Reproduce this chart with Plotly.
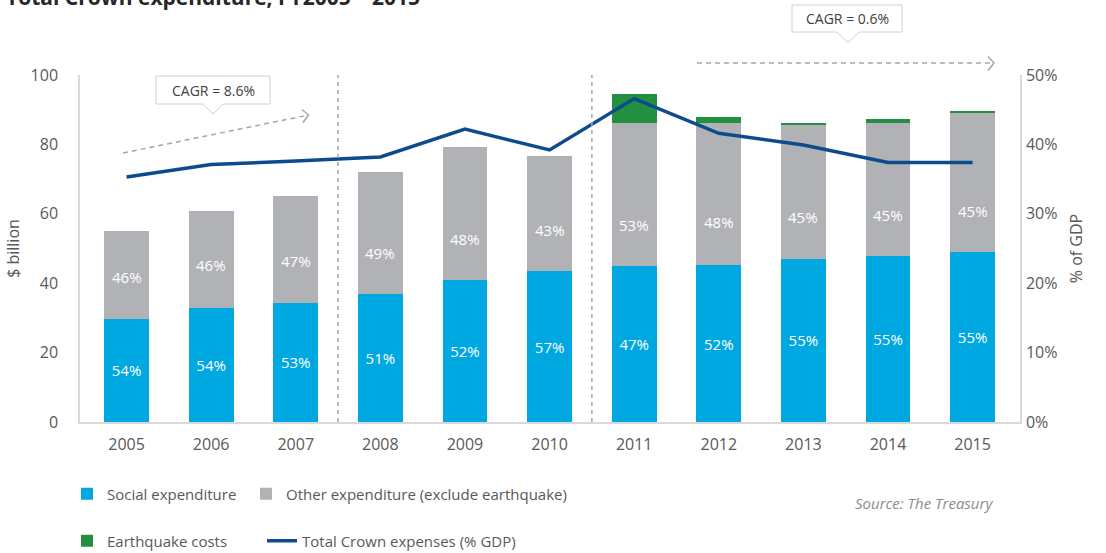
import plotly.graph_objects as go

# ---- data ----
years = ["2005", "2006", "2007", "2008", "2009", "2010", "2011", "2012", "2013", "2014", "2015"]
social = [29.7, 32.8, 34.4, 36.9, 40.9, 43.5, 45.0, 45.2, 47.0, 47.8, 49.0]
other = [25.3, 28.0, 30.7, 35.2, 38.4, 33.2, 41.1, 40.9, 38.7, 38.5, 40.0]
earthquake = [0, 0, 0, 0, 0, 0, 8.4, 1.9, 0.5, 1.0, 0.6]
gdp_pct = [35.3, 37.1, 37.6, 38.2, 42.2, 39.2, 46.6, 41.6, 39.9, 37.4, 37.4]
social_share = ["54%", "54%", "53%", "51%", "52%", "57%", "47%", "52%", "55%", "55%", "55%"]
other_share = ["46%", "46%", "47%", "49%", "48%", "43%", "53%", "48%", "45%", "45%", "45%"]
other_label_pos = [41.9, 45.2, 46.5, 48.8, 52.7, 55.3, 56.8, 57.7, 59.1, 59.7, 60.8]

# ---- styling ----
BLUE = "#00A8E1"
GREY = "#B1B2B6"
GREEN = "#22903F"
NAVY = "#0C4B8E"
TXT = "#595959"
FONT = "Open Sans"

W, H = 1106, 553
L, R, T, B = 80, 1020, 75, 422  # plot area in pixels


def px(x):
    return (x - L) / (R - L)


def py(y):
    return (B - y) / (B - T)


fig = go.Figure()
fig.add_trace(go.Bar(
    x=years, y=social, name="Social expenditure", marker=dict(color=BLUE, line=dict(width=0)),
    text=social_share, textposition="inside", insidetextanchor="middle",
    textfont=dict(color="white", size=15, family=FONT), legend="legend",
))
fig.add_trace(go.Bar(
    x=years, y=other, name="Other expenditure (exclude earthquake)",
    marker=dict(color=GREY, line=dict(width=0)), legend="legend2",
))
fig.add_trace(go.Bar(
    x=years, y=earthquake, name="Earthquake costs",
    marker=dict(color=GREEN, line=dict(width=0)), legend="legend3",
))
fig.add_trace(go.Scatter(
    x=years, y=gdp_pct, name="Total Crown expenses (% GDP)", mode="lines",
    line=dict(color=NAVY, width=3.5), yaxis="y2", legend="legend4",
))

# labels in the grey segments (category axis -> use category index)
for i, (lab, pos) in enumerate(zip(other_share, other_label_pos)):
    fig.add_annotation(x=i, y=pos, text=lab, showarrow=False, xref="x", yref="y",
                       xanchor="center", yanchor="middle",
                       font=dict(color="white", size=15, family=FONT))

shapes = []
# vertical dashed separators between periods
for xs in (2.5, 5.5):
    shapes.append(dict(type="line", xref="x", yref="paper", x0=xs, x1=xs, y0=0, y1=1,
                       line=dict(color="#A6A6A6", width=1.5, dash="4px,4px")))


def callout(x0, x1, y0, y1, tip_x, tip_y, half):
    p = (f"M{px(x0)},{py(y0)} L{px(x1)},{py(y0)} L{px(x1)},{py(y1)} "
         f"L{px(tip_x + half)},{py(y1)} L{px(tip_x)},{py(tip_y)} L{px(tip_x - half)},{py(y1)} "
         f"L{px(x0)},{py(y1)} Z")
    return dict(type="path", xref="paper", yref="paper", path=p,
                fillcolor="white", line=dict(color="#D0D0D0", width=1))


shapes.append(callout(156, 270, 76, 104, 213, 114, 10))
shapes.append(callout(792, 902, 5, 32, 848, 42.5, 11))

ARROW = dict(color="#A6A6A6", width=1.5)
# arrow 1 (diagonal)
shapes.append(dict(type="line", xref="paper", yref="paper", x0=px(123), y0=py(153), x1=px(306), y1=py(115.5),
                   line=dict(**ARROW, dash="5px,4px")))
shapes.append(dict(type="path", xref="paper", yref="paper",
                   path=f"M{px(302)},{py(109.5)} L{px(308.5)},{py(115)} L{px(303)},{py(122.5)}",
                   line=ARROW))
# arrow 2 (horizontal)
shapes.append(dict(type="line", xref="paper", yref="paper", x0=px(697), y0=py(63), x1=px(991), y1=py(63),
                   line=dict(**ARROW, dash="5px,4px")))
shapes.append(dict(type="path", xref="paper", yref="paper",
                   path=f"M{px(988)},{py(56.5)} L{px(994)},{py(63)} L{px(988)},{py(70.5)}",
                   line=ARROW))

fig.add_annotation(x=px(213), y=py(90), xref="paper", yref="paper", text="CAGR = 8.6%",
                   xanchor="center", yanchor="middle",
                   showarrow=False, font=dict(color="#404040", size=14, family=FONT))
fig.add_annotation(x=px(847), y=py(18.5), xref="paper", yref="paper", text="CAGR = 0.6%",
                   xanchor="center", yanchor="middle",
                   showarrow=False, font=dict(color="#404040", size=14, family=FONT))

# title (cut off at top as in reference)
fig.add_annotation(x=px(4), y=py(13), xref="paper", yref="paper", xanchor="left", yanchor="bottom",
                   text="<b>Total Crown expenditure, FY2005 – 2015</b>", showarrow=False,
                   font=dict(color="#262626", size=21, family=FONT))
# source
fig.add_annotation(x=px(995), y=py(503), xref="paper", yref="paper", xanchor="right", yanchor="middle",
                   text="<i>Source: The Treasury</i>", showarrow=False,
                   font=dict(color="#8C8C8C", size=15, family=FONT))

LEG = dict(orientation="h", xanchor="left", yanchor="middle", font=dict(size=15, color=TXT),
           bgcolor="rgba(0,0,0,0)", borderwidth=0)

fig.update_layout(
    width=W, height=H, barmode="stack", bargap=1 - 0.53,
    margin=dict(l=L, r=W - R, t=T, b=H - B, pad=0, autoexpand=False),
    plot_bgcolor="white", paper_bgcolor="white",
    font=dict(family=FONT, color=TXT, size=15),
    shapes=shapes,
    xaxis=dict(type="category", range=[-0.55, 10.56], showline=True, linecolor="#D9D9D9", linewidth=1.5,
               ticks="", showgrid=False, tickfont=dict(size=16, color=TXT), ticklabelstandoff=7),
    yaxis=dict(range=[0, 100], dtick=20, showline=True, linecolor="#D9D9D9", linewidth=1.5, ticks="",
               showgrid=False, zeroline=False, tickfont=dict(size=16, color=TXT), ticklabelstandoff=17,
               title=dict(text="$ billion", font=dict(size=16, color=TXT), standoff=7)),
    yaxis2=dict(range=[0, 50], dtick=10, ticksuffix="%", overlaying="y", side="right", showline=True,
                linecolor="#D9D9D9", linewidth=1.5, ticks="", showgrid=False, zeroline=False,
                tickfont=dict(size=16, color=TXT), ticklabelstandoff=1,
                title=dict(text="% of GDP", font=dict(size=16, color=TXT), standoff=14)),
    legend=dict(LEG, x=px(67), y=py(494)),
    legend2=dict(LEG, x=px(246), y=py(494)),
    legend3=dict(LEG, x=px(67), y=py(541)),
    legend4=dict(LEG, x=px(262), y=py(541)),
    showlegend=True,
)

fig.write_html("out.html", config={"displayModeBar": False},
               post_script="document.body.style.margin='0';document.body.style.overflow='hidden';")
